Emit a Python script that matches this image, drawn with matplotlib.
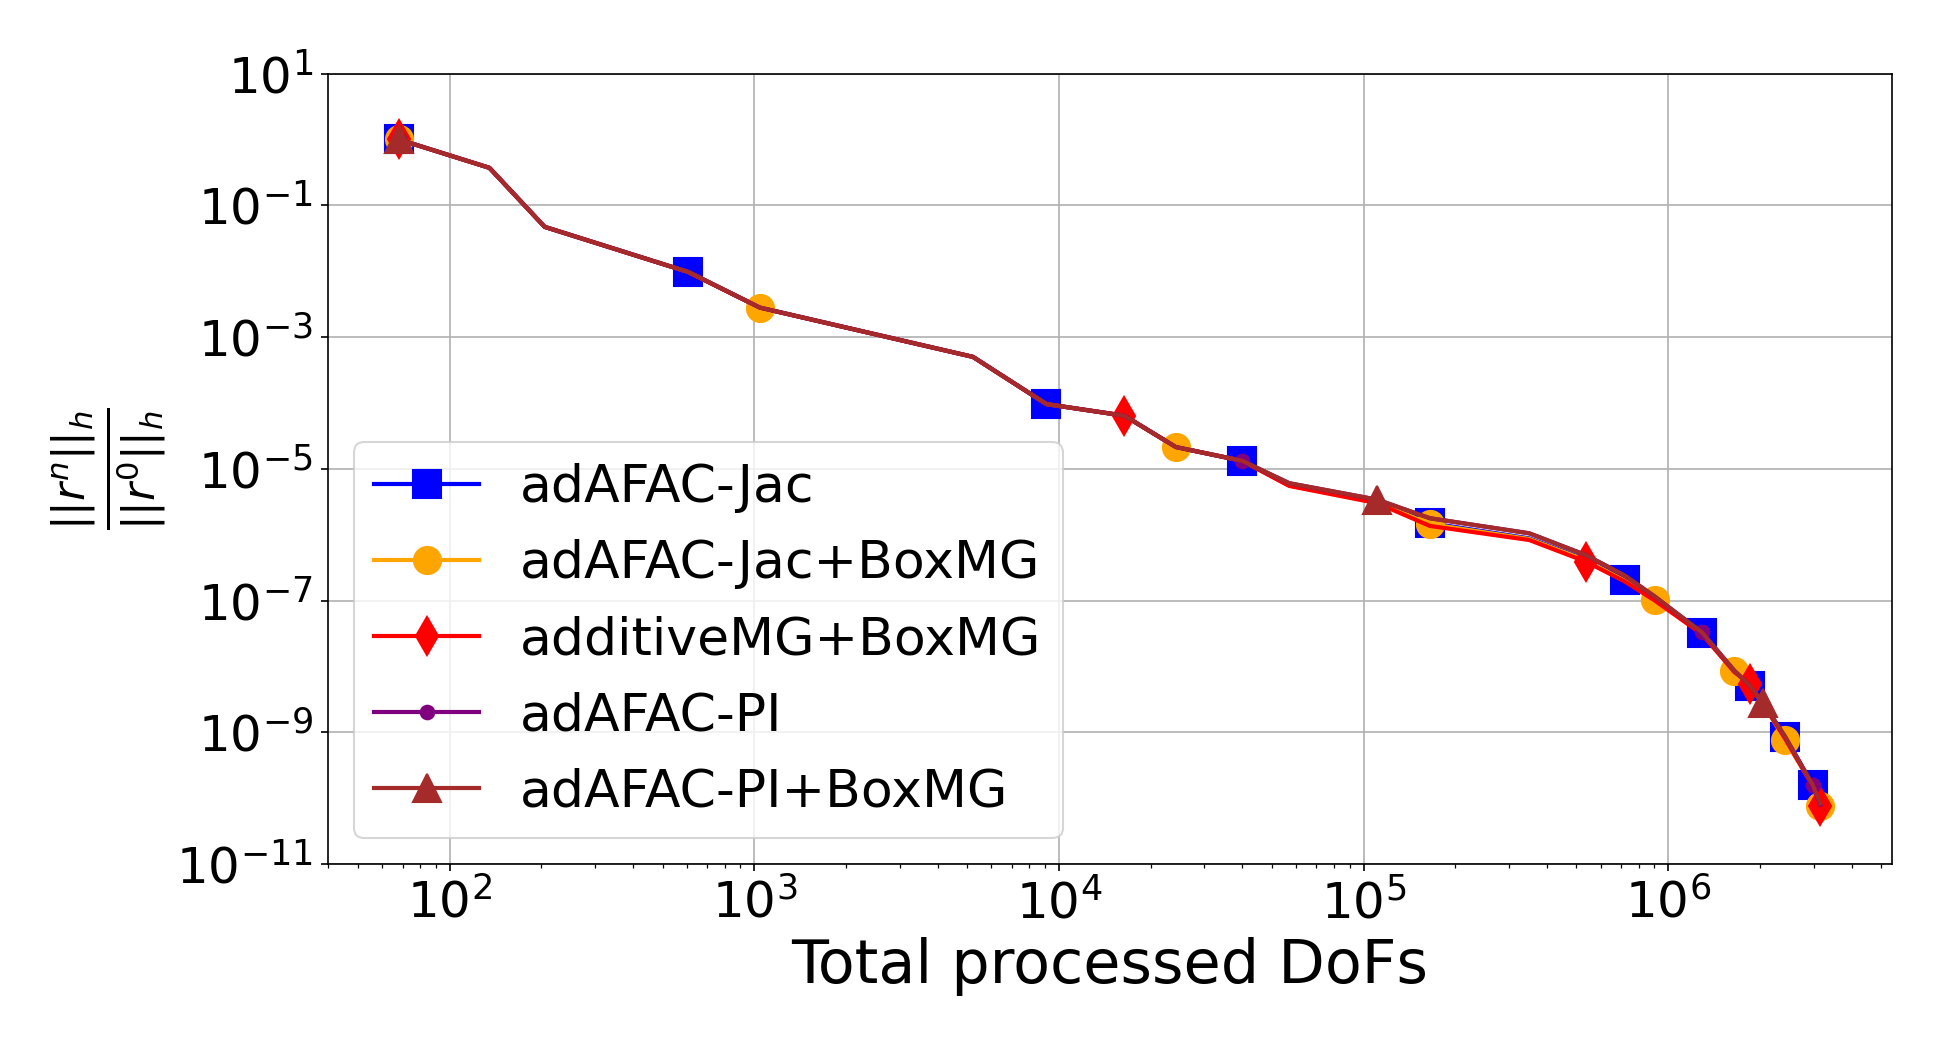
import matplotlib
matplotlib.use("Agg")
import matplotlib.pyplot as plt

# total processed DoFs (shared by all runs)
dofs = [68, 135, 205, 607, 1042, 5220, 9100, 1.64e4, 2.42e4, 4.0e4, 5.7e4,
        1.11e5, 1.65e5, 3.5e5, 5.37e5, 7.2e5, 9.04e5, 1.29e6, 1.65e6,
        1.85e6, 2.05e6, 2.42e6, 2.98e6, 3.16e6]

# relative residual per run
res_jac = [1.0, 0.37, 0.047, 9.7e-3, 2.8e-3, 5.0e-4, 9.6e-5, 6.4e-5, 2.14e-5,
           1.32e-5, 5.6e-6, 3.15e-6, 1.5e-6, 8.8e-7, 4.2e-7, 2.06e-7, 1.04e-7,
           3.2e-8, 8.4e-9, 5.0e-9, 2.75e-9, 8.6e-10, 1.58e-10, 7.8e-11]
res_jac_box = [1.0, 0.37, 0.047, 9.7e-3, 2.8e-3, 5.0e-4, 9.6e-5, 6.4e-5, 2.14e-5,
               1.32e-5, 5.6e-6, 3.1e-6, 1.45e-6, 8.6e-7, 4.1e-7, 2.0e-7, 1.02e-7,
               3.2e-8, 8.4e-9, 5.0e-9, 2.75e-9, 7.6e-10, 1.58e-10, 7.6e-11]
res_add = [1.0, 0.37, 0.047, 9.7e-3, 2.8e-3, 5.0e-4, 9.6e-5, 6.4e-5, 2.14e-5,
           1.32e-5, 5.5e-6, 3.0e-6, 1.36e-6, 8.3e-7, 3.9e-7, 1.95e-7, 1.0e-7,
           3.1e-8, 8.2e-9, 5.5e-9, 2.7e-9, 8.0e-10, 1.55e-10, 7.6e-11]
res_pi = [1.0, 0.37, 0.047, 9.7e-3, 2.8e-3, 5.0e-4, 9.6e-5, 6.4e-5, 2.14e-5,
          1.32e-5, 6.05e-6, 3.4e-6, 1.78e-6, 1.05e-6, 4.9e-7, 2.4e-7, 1.15e-7,
          3.3e-8, 8.6e-9, 5.2e-9, 2.75e-9, 8.6e-10, 1.58e-10, 8.0e-11]
res_pi_box = [1.0, 0.37, 0.047, 9.7e-3, 2.8e-3, 5.0e-4, 9.6e-5, 6.4e-5, 2.14e-5,
              1.32e-5, 6.05e-6, 3.4e-6, 1.78e-6, 1.05e-6, 4.9e-7, 2.4e-7, 1.15e-7,
              3.3e-8, 8.6e-9, 5.2e-9, 2.75e-9, 8.6e-10, 1.6e-10, 8.3e-11]

# which points carry a marker
marks_jac = [0, 3, 6, 9, 12, 15, 17, 19, 21, 22]
marks_jac_box = [0, 4, 8, 12, 16, 18, 21, 23]
marks_add = [0, 7, 14, 19, 23]
marks_pi = [0, 9, 17, 22]
marks_pi_box = [0, 11, 20]

labels = ['adAFAC-Jac', 'adAFAC-Jac+BoxMG', 'additiveMG+BoxMG',
          'adAFAC-PI', 'adAFAC-PI+BoxMG']

fig = plt.figure(figsize=(13, 7), dpi=150)
ax = fig.add_axes([0.168, 0.177, 0.802, 0.753])

ax.loglog(dofs, res_jac, color='blue', marker='s', ms=13, lw=2,
          markevery=marks_jac, label=labels[0])
ax.loglog(dofs, res_jac_box, color='orange', marker='o', ms=13, lw=2,
          markevery=marks_jac_box, label=labels[1])
ax.loglog(dofs, res_add, color='red', marker='d', ms=13, lw=2,
          markevery=marks_add, label=labels[2])
ax.loglog(dofs, res_pi, color='purple', marker='.', ms=13, lw=2,
          markevery=marks_pi, label=labels[3])
ax.loglog(dofs, res_pi_box, color='brown', marker='^', ms=13, lw=2,
          markevery=marks_pi_box, label=labels[4])

ax.set_ylim(1e-11, 1e1)
ax.grid(True)
ax.tick_params(labelsize=24)
ax.set_xlabel('Total processed DoFs', fontsize=29)
ax.set_ylabel(r'$\frac{||r^n||_h}{||r^0||_h}$', fontsize=30)
ax.legend(loc='lower left', fontsize=25)

fig.savefig('out.png', dpi=150)
